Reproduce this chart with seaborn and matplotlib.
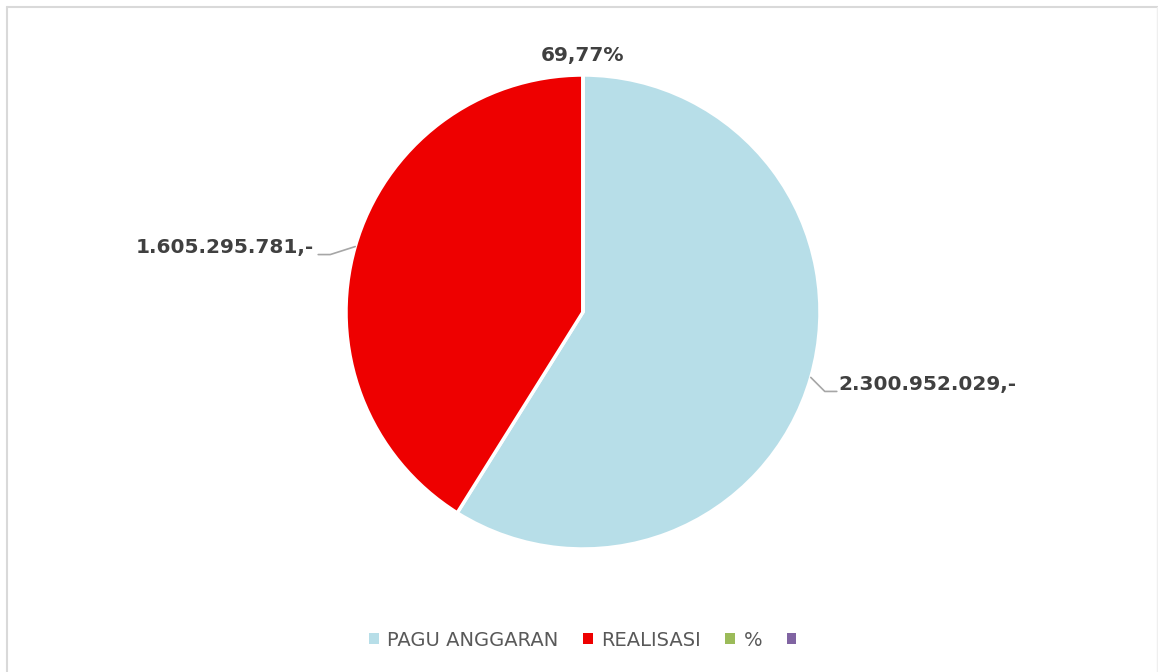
import numpy as np
import matplotlib
matplotlib.use("Agg")
import matplotlib.pyplot as plt
import seaborn as sns
from matplotlib.lines import Line2D
from matplotlib.patches import Patch

sns.set_theme(style="white")
plt.rcParams['font.family'] = ['DejaVu Sans']

categories = ["PAGU ANGGARAN", "REALISASI", "%", ""]
values = [2300952029, 1605295781, 69.77, 0]
value_labels = ["2.300.952.029,-", "1.605.295.781,-", "69,77%", ""]
colors = ["#B7DEE8", "#EE0000", "#9BBB59", "#8064A2"]

W, H = 1158, 672
fig = plt.figure(figsize=(W / 100, H / 100), dpi=100)
fig.patch.set_facecolor("white")
ax = fig.add_axes([0, 0, 1, 1])

cx, cy, r = 583, 360, 237
wedges, _ = ax.pie(values, colors=colors, startangle=90, counterclock=False,
                   center=(cx, cy), radius=r, frame=True,
                   wedgeprops=dict(edgecolor="white", linewidth=2.5))
ax.set_xlim(0, W)
ax.set_ylim(0, H)
ax.set_aspect("equal")
ax.axis("off")

lab_kw = dict(fontsize=14.5, fontweight="heavy", color="#404040")
line_kw = dict(color="#A6A6A6", lw=1.2)

# Pagu label (right side)
w = wedges[0]
mid = np.deg2rad((w.theta1 + w.theta2) / 2)
x0, y0 = cx + r * np.cos(mid), cy + r * np.sin(mid)
ax.plot([x0, x0 + 14, x0 + 26], [y0, y0 - 14, y0 - 14], **line_kw)
ax.text(x0 + 28, y0 - 7, value_labels[0], ha="left", va="center", **lab_kw)

# Realisasi label (left side)
w = wedges[1]
mid = np.deg2rad((w.theta1 + w.theta2) / 2)
x0, y0 = cx + r * np.cos(mid), cy + r * np.sin(mid)
ax.plot([x0, x0 - 25, x0 - 37], [y0, y0 - 8, y0 - 8], **line_kw)
ax.text(x0 - 41, y0 - 1, value_labels[1], ha="right", va="center", **lab_kw)

# % label (top)
ax.text(cx, cy + r + 19, value_labels[2], ha="center", va="center", **lab_kw)

handles = [Patch(facecolor=c, edgecolor="none") for c in colors]
leg = fig.legend(handles, categories, loc="center", bbox_to_anchor=(587 / W, 1 - 640 / H),
                 ncol=4, frameon=False, fontsize=14, handlelength=0.5, handleheight=0.5,
                 handletextpad=0.45, columnspacing=1.25)
for t in leg.get_texts():
    t.set_color("#595959")

border = "#D9D9D9"
fig.add_artist(Line2D([6.5 / W, 6.5 / W], [0, 1 - 6.5 / H], transform=fig.transFigure, color=border, lw=1.5))
fig.add_artist(Line2D([6.5 / W, 1], [1 - 6.5 / H, 1 - 6.5 / H], transform=fig.transFigure, color=border, lw=1.5))
fig.add_artist(Line2D([1157 / W, 1157 / W], [0, 1 - 6.5 / H], transform=fig.transFigure, color="#EFEFEF", lw=1))

fig.savefig("out.png", dpi=100, facecolor="white")
